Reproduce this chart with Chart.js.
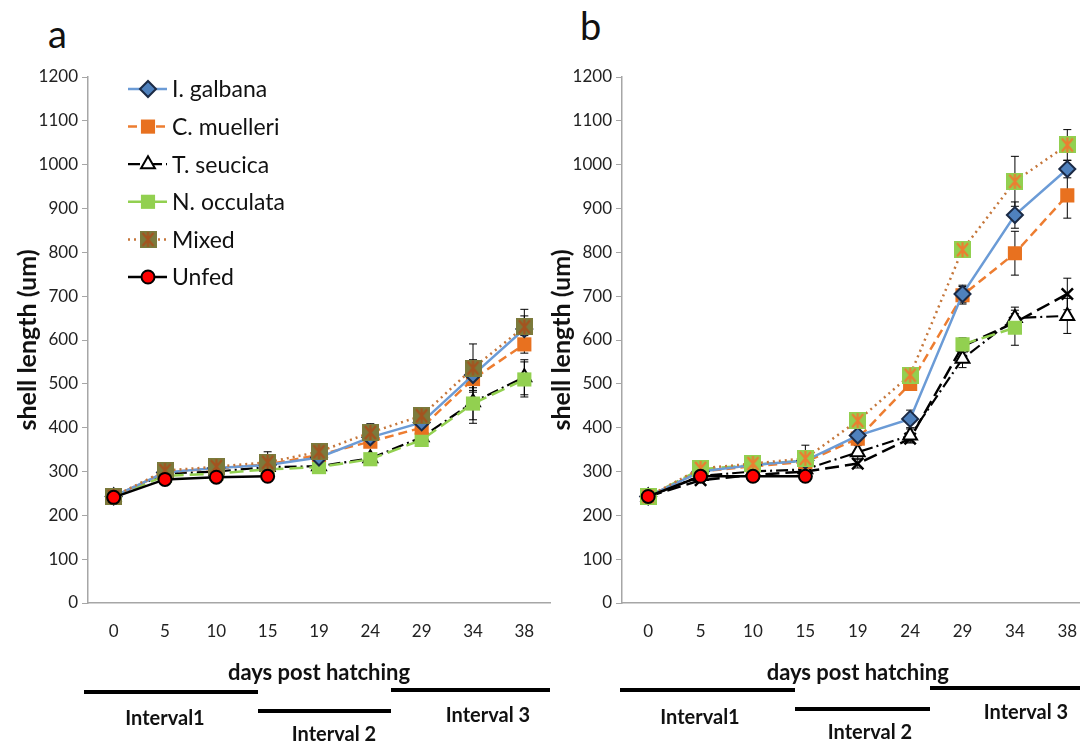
<!DOCTYPE html>
<html>
<head>
<meta charset="utf-8">
<script src="https://cdn.jsdelivr.net/npm/chart.js@4.4.1/dist/chart.umd.min.js"></script>
<style>
  body { margin: 0; width: 1080px; height: 744px; overflow: hidden; background: #fff; position: relative; font-family: Lato, sans-serif; }
  .box { position: absolute; top: 0; height: 700px; }
  #boxA { left: 0; width: 560px; }
  #boxB { left: 534px; width: 570px; }
  .letter { position: absolute; font-size: 38px; color: #111; line-height: 1; }
  .bar { position: absolute; height: 4px; background: #000; }
  .lbl { position: absolute; font-weight: bold; font-size: 20px; color: #111; white-space: nowrap; transform: translate(-50%, -50%); }
</style>
</head>
<body>
<div class="letter" style="left:48px;top:14px;">a</div>
<div class="letter" style="left:580px;top:6px;">b</div>
<div class="box" id="boxA"><canvas id="chartA"></canvas></div>
<div class="box" id="boxB"><canvas id="chartB"></canvas></div>

<div class="bar" style="left:84px;width:174px;top:690px;"></div>
<div class="bar" style="left:258px;width:133px;top:709px;"></div>
<div class="bar" style="left:391px;width:159px;top:688px;"></div>
<div class="lbl" style="left:165px;top:717px;">Interval1</div>
<div class="lbl" style="left:334px;top:733px;">Interval 2</div>
<div class="lbl" style="left:488px;top:714px;">Interval 3</div>

<div class="bar" style="left:620px;width:175px;top:688px;"></div>
<div class="bar" style="left:795px;width:135px;top:707px;"></div>
<div class="bar" style="left:930px;width:150px;top:686px;"></div>
<div class="lbl" style="left:700px;top:716px;">Interval1</div>
<div class="lbl" style="left:870px;top:731px;">Interval 2</div>
<div class="lbl" style="left:1026px;top:711px;">Interval 3</div>

<script>
const days = ['0', '5', '10', '15', '19', '24', '29', '34', '38'];

// panel a
const galbanaA  = [243, 298, 308, 315, 332, 378, 412, 520, 625];
const muelleriA = [243, 298, 307, 316, 338, 368, 400, 511, 590];
const seucicaA  = [243, 295, 300, 310, 312, 330, 378, 458, 515];
const occulataA = [243, 290, 295, 305, 310, 328, 372, 455, 510];
const mixedA    = [243, 302, 311, 321, 345, 389, 427, 536, 630];
const unfedA    = [241, 282, 287, 289, null, null, null, null, null];

const galbanaErrA  = [0, 5, 5, 8, 8, 10, 12, 35, 30];
const muelleriErrA = [0, 5, 5, 8, 8, 12, 15, 20, 20];
const seucicaErrA  = [0, 5, 5, 5, 8, 10, 15, 40, 40];
const occulataErrA = [0, 5, 5, 5, 8, 10, 15, 45, 40];
const mixedErrA    = [0, 5, 5, 24, 10, 20, 15, 55, 40];
const unfedErrA    = [0, 5, 5, 5, 0, 0, 0, 0, 0];

// panel b
const galbanaB  = [243, 300, 315, 325, 382, 420, 705, 885, 990];
const muelleriB = [243, 300, 312, 322, 375, 500, 702, 798, 930];
const seucicaB  = [243, 290, 300, 305, 344, 382, 557, 650, 655];
const occulataB = [243, 305, 315, 325, null, null, 590, 628, null];
const mixedB    = [243, 307, 318, 330, 416, 520, 806, 962, 1045];
const unfedB    = [243, 289, 289, 289, null, null, null, null, null];
const crossB    = [243, 280, 292, 300, 318, 375, 586, 640, 705];

const galbanaErrB  = [0, 5, 5, 10, 10, 20, 20, 30, 20];
const muelleriErrB = [0, 5, 5, 10, 10, 15, 20, 50, 52];
const seucicaErrB  = [0, 5, 5, 10, 15, 15, 20, 25, 40];
const occulataErrB = [0, 5, 5, 5, 0, 0, 15, 40, 0];
const mixedErrB    = [0, 5, 10, 30, 10, 15, 10, 57, 35];
const unfedErrB    = [0, 5, 5, 5, 0, 0, 0, 0, 0];
const crossErrB    = [0, 5, 5, 5, 10, 10, 15, 20, 36];

// square with a star on it (Excel "mixed" marker)
function boxStar(fill, star) {
  const c = document.createElement('canvas');
  c.width = 17; c.height = 17;
  const g = c.getContext('2d');
  g.fillStyle = fill;
  g.fillRect(0, 0, 17, 17);
  g.strokeStyle = star;
  g.lineWidth = 2.2;
  g.beginPath();
  g.moveTo(3, 2); g.lineTo(14, 15);
  g.moveTo(14, 2); g.lineTo(3, 15);
  g.moveTo(8.5, 1); g.lineTo(8.5, 16);
  g.stroke();
  return c;
}

const styles = {
  galbana: { borderColor: '#6b9bd6', borderWidth: 2.5, pointStyle: 'rectRot', pointRadius: 8,
    pointBackgroundColor: '#4f81bd', pointBorderColor: '#1b2a45', pointBorderWidth: 2, order: 2 },
  muelleri: { borderColor: '#ed7d31', borderWidth: 2.5, borderDash: [9, 5], pointStyle: 'rect', pointRadius: 10,
    pointBackgroundColor: '#e8711f', pointBorderColor: '#e8711f', pointBorderWidth: 0, order: 3 },
  seucica: { borderColor: '#000', borderWidth: 2.2, borderDash: [12, 4, 2, 4], pointStyle: 'triangle', pointRadius: 8,
    pointBackgroundColor: '#fff', pointBorderColor: '#000', pointBorderWidth: 2, order: 5 },
  occulata: { borderColor: '#92d050', borderWidth: 2.5, borderDash: [14, 6], legendDash: [], pointStyle: 'rect', pointRadius: 10,
    pointBackgroundColor: '#92d050', pointBorderColor: '#92d050', pointBorderWidth: 0, order: 4 },
  unfed: { borderColor: '#000', borderWidth: 2.5, pointStyle: 'circle', pointRadius: 6.5,
    pointBackgroundColor: '#ff0000', pointBorderColor: '#000', pointBorderWidth: 2, order: 0 },
  cross: { borderColor: '#000', borderWidth: 2.5, borderDash: [14, 6], pointStyle: 'crossRot', pointRadius: 8,
    pointBackgroundColor: '#000', pointBorderColor: '#000', pointBorderWidth: 2.5, order: 6, noLegend: true }
};

function mixedStyle(fill, star) {
  return { borderColor: '#c5763a', borderWidth: 2.5, borderDash: [2, 4], pointStyle: boxStar(fill, star), pointRadius: 8,
    pointBackgroundColor: fill, pointBorderColor: star, pointBorderWidth: 0, order: 1 };
}

function series(label, data, errors, style) {
  return Object.assign({ label, data, errors, fill: false, tension: 0, spanGaps: false, pointHoverRadius: 8 }, style);
}

const errorBars = {
  id: 'errorBars',
  beforeDatasetsDraw(chart) {
    const ctx = chart.ctx, ys = chart.scales.y;
    chart.data.datasets.forEach((ds, di) => {
      if (!ds.errors) return;
      const meta = chart.getDatasetMeta(di);
      ds.data.forEach((v, i) => {
        const e = ds.errors[i];
        if (v == null || !e) return;
        const x = meta.data[i].x;
        const y1 = ys.getPixelForValue(v - e), y2 = ys.getPixelForValue(v + e);
        ctx.save();
        ctx.strokeStyle = '#000';
        ctx.lineWidth = 1;
        ctx.beginPath();
        ctx.moveTo(x, y1); ctx.lineTo(x, y2);
        ctx.moveTo(x - 4, y1); ctx.lineTo(x + 4, y1);
        ctx.moveTo(x - 4, y2); ctx.lineTo(x + 4, y2);
        ctx.stroke();
        ctx.restore();
      });
    });
  }
};

// legend drawn inside the plot, top-left
const insideLegend = {
  id: 'insideLegend',
  afterDraw(chart, args, opts) {
    if (!opts.show) return;
    const ctx = chart.ctx;
    chart.data.datasets.filter(ds => !ds.noLegend).forEach((ds, i) => {
      const y = opts.top + i * opts.gap;
      ctx.save();
      ctx.strokeStyle = ds.borderColor;
      ctx.lineWidth = ds.borderWidth;
      ctx.setLineDash(ds.legendDash || ds.borderDash || []);
      ctx.beginPath();
      ctx.moveTo(opts.left, y);
      ctx.lineTo(opts.left + 39, y);
      ctx.stroke();
      ctx.setLineDash([]);
      ctx.fillStyle = ds.pointBackgroundColor;
      ctx.strokeStyle = ds.pointBorderColor;
      ctx.lineWidth = ds.pointBorderWidth;
      Chart.helpers.drawPoint(ctx, { pointStyle: ds.pointStyle, radius: ds.pointRadius, rotation: 0,
        borderWidth: ds.pointBorderWidth }, opts.left + 20, y);
      ctx.fillStyle = '#111';
      ctx.font = '23px Lato';
      ctx.textBaseline = 'middle';
      ctx.fillText(ds.label, opts.left + 44, y + 1);
      ctx.restore();
    });
  }
};

function makeChart(id, datasets, showLegend) {
  return new Chart(document.getElementById(id), {
    type: 'line',
    data: { labels: days, datasets },
    options: {
      responsive: true,
      maintainAspectRatio: false,
      animation: false,
      layout: { padding: { top: 77, right: 10, left: 0, bottom: 0 } },
      plugins: {
        legend: { display: false },
        tooltip: { enabled: false },
        insideLegend: { show: showLegend, left: 128, top: 89, gap: 37.6 }
      },
      scales: {
        x: {
          offset: true,
          grid: { display: false, drawTicks: false },
          border: { display: true, color: '#a6a6a6', width: 1.5 },
          ticks: { color: '#222', font: { family: 'Lato', size: 17 }, padding: 18 },
          title: { display: true, text: 'days post hatching', color: '#111',
            font: { family: 'Lato', size: 22, weight: 'bold' }, padding: { top: 0, bottom: 14 } },
          afterFit: s => { s.height = 97; }
        },
        y: {
          min: 0,
          max: 1200,
          ticks: { stepSize: 100, color: '#222', font: { family: 'Lato', size: 17 }, padding: 4,
            callback: v => String(v) },
          grid: { drawOnChartArea: false, tickLength: 6, color: '#a6a6a6' },
          border: { color: '#a6a6a6', width: 1.5 },
          title: { display: true, text: 'shell length (um)', color: '#111',
            font: { family: 'Lato', size: 25, weight: 'bold' }, padding: { top: 13, bottom: 0 } },
          afterFit: s => { s.width = 88; }
        }
      }
    },
    plugins: [errorBars, insideLegend]
  });
}

makeChart('chartA', [
  series('I. galbana', galbanaA, galbanaErrA, styles.galbana),
  series('C. muelleri', muelleriA, muelleriErrA, styles.muelleri),
  series('T. seucica', seucicaA, seucicaErrA, styles.seucica),
  series('N. occulata', occulataA, occulataErrA, styles.occulata),
  series('Mixed', mixedA, mixedErrA, mixedStyle('#7b7a3c', '#a5531f')),
  series('Unfed', unfedA, unfedErrA, styles.unfed)
], true);

makeChart('chartB', [
  series('I. galbana', galbanaB, galbanaErrB, styles.galbana),
  series('C. muelleri', muelleriB, muelleriErrB, styles.muelleri),
  series('T. seucica', seucicaB, seucicaErrB, styles.seucica),
  series('N. occulata', occulataB, occulataErrB, styles.occulata),
  series('Mixed', mixedB, mixedErrB, mixedStyle('#92d050', '#ed7d31')),
  series('Unfed', unfedB, unfedErrB, styles.unfed),
  series('', crossB, crossErrB, styles.cross)
], false);
</script>
</body>
</html>
